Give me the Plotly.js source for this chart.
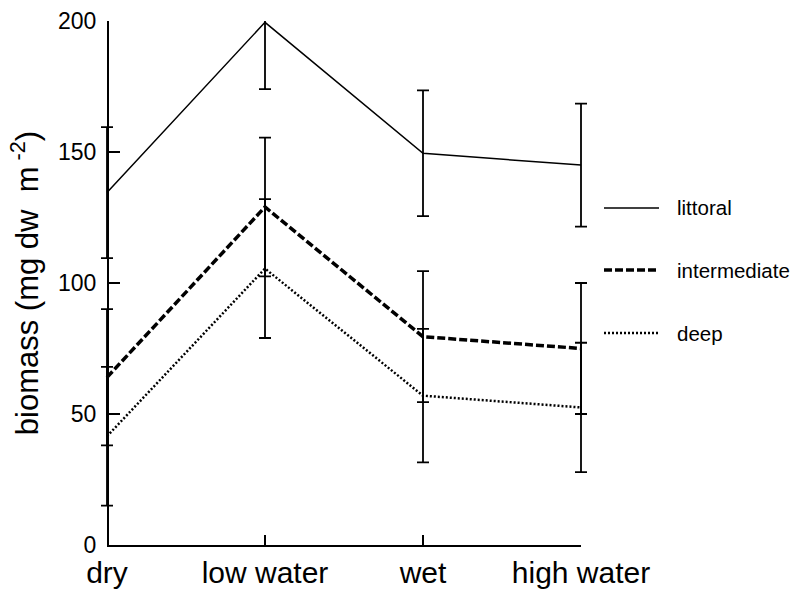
<!DOCTYPE html>
<html>
<head>
<meta charset="utf-8">
<script src="https://cdn.plot.ly/plotly-3.0.1.min.js"></script>
<style>html,body{margin:0;padding:0;background:#fff;}#chart{width:790px;height:590px;}</style>
</head>
<body>
<div id="chart"></div>
<script>
// ---- data ----
const seasons = ["dry", "low water", "wet", "high water"];

const seriesNames = ["littoral", "intermediate", "deep"];

const littoral      = [134.5, 199.5, 149.5, 145.0];
const littoralErr   = [25.0, 25.5, 24.0, 23.5];

const intermediate    = [64.0, 129.0, 79.5, 75.0];
const intermediateErr = [26.0, 26.5, 25.0, 25.0];

const deep    = [41.5, 105.5, 57.0, 52.5];
const deepErr = [26.5, 26.5, 25.5, 24.7];

const yTicks = [0, 50, 100, 150, 200];

// ---- styling ----
const FONT = "Liberation Sans, Arial, sans-serif";
const lineStyles = [
  {width: 1.5, dash: "solid"},
  {width: 3.5, dash: "8px,3px"},
  {width: 2.5, dash: "2px,2px"}
];
const values = [littoral, intermediate, deep];
const errors = [littoralErr, intermediateErr, deepErr];

// empty helper trace first so the visible category axis (x2) is drawn beneath the data
const traces = [{type: "scatter", mode: "lines", x: [], y: [], xaxis: "x2", yaxis: "y", showlegend: false, hoverinfo: "skip"}];
seriesNames.forEach((name, i) => traces.push({
  type: "scatter",
  mode: "lines",
  name: name,
  x: seasons,
  y: values[i],
  xaxis: "x",
  yaxis: "y",
  line: {color: "#000", width: lineStyles[i].width, dash: lineStyles[i].dash},
  error_y: {type: "data", array: errors[i], visible: true, color: "#000", thickness: 1.8, width: 6},
  showlegend: false,
  hoverinfo: "x+y"
}));

// geometry: visible axes run from "dry" to "high water"; the data axis is
// padded a little so error-bar caps at the ends are not clipped
const W = 790, H = 590;
const PAD = 8;                         // px of padding each side of the data axis
const M = {l: 107 - PAD, r: 209 - PAD, t: 21, b: 45};
const pw = W - M.l - M.r, ph = H - M.t - M.b;
const inner = pw - 2 * PAD;            // px from dry to high water
const step = inner / (seasons.length - 1);
const padUnits = PAD / step;
const px2x = p => (p - M.l) / pw;
const py2y = p => (H - M.b - p) / ph;

// custom legend (long line samples as in the reference)
const legendRows = [208, 270, 333];
const shapes = [];
const annotations = [];
seriesNames.forEach((name, i) => {
  shapes.push({
    type: "line", xref: "paper", yref: "paper",
    x0: px2x(604), x1: px2x(659), y0: py2y(legendRows[i]), y1: py2y(legendRows[i]),
    line: {color: "#000", width: lineStyles[i].width, dash: lineStyles[i].dash}
  });
  annotations.push({
    xref: "paper", yref: "paper", x: px2x(675), y: py2y(legendRows[i]),
    xanchor: "left", yanchor: "middle", showarrow: false,
    text: name, font: {family: FONT, size: 20.5, color: "#000"}
  });
});

const layout = {
  width: W, height: H,
  margin: M,
  paper_bgcolor: "#fff",
  plot_bgcolor: "rgba(0,0,0,0)",
  showlegend: false,
  font: {family: FONT, color: "#000"},
  xaxis: {
    type: "category",
    categoryarray: seasons,
    domain: [0, 1],
    range: [-padUnits, seasons.length - 1 + padUnits],
    showline: false, ticks: "", showticklabels: false,
    showgrid: false, zeroline: false,
    anchor: "y"
  },
  xaxis2: {
    type: "category",
    categoryarray: seasons,
    domain: [PAD / pw, 1 - PAD / pw],
    range: [0, seasons.length - 1],
    anchor: "y",
    showline: true, linecolor: "#000", linewidth: 1.8,
    ticks: "inside", ticklen: 10, tickwidth: 1.8, tickcolor: "#000",
    showgrid: false, zeroline: false,
    tickfont: {family: FONT, size: 30, color: "#000"},
    ticklabelstandoff: 0
  },
  yaxis: {
    range: [0, 200],
    anchor: "free",
    position: PAD / pw,
    tickvals: yTicks,
    ticktext: yTicks.map(String),
    showline: true, linecolor: "#000", linewidth: 1.8,
    ticks: "inside", ticklen: 11, tickwidth: 1.8, tickcolor: "#000",
    showgrid: false, zeroline: false,
    tickfont: {family: FONT, size: 23, color: "#000"},
    ticklabelstandoff: 6,
    title: {text: "biomass (mg dw\u00a0 m<sup> -2</sup>)", font: {family: FONT, size: 31, color: "#000"}, standoff: 8}
  },
  shapes: shapes,
  annotations: annotations
};

Plotly.newPlot("chart", traces, layout, {displayModeBar: false, staticPlot: true});
</script>
</body>
</html>
